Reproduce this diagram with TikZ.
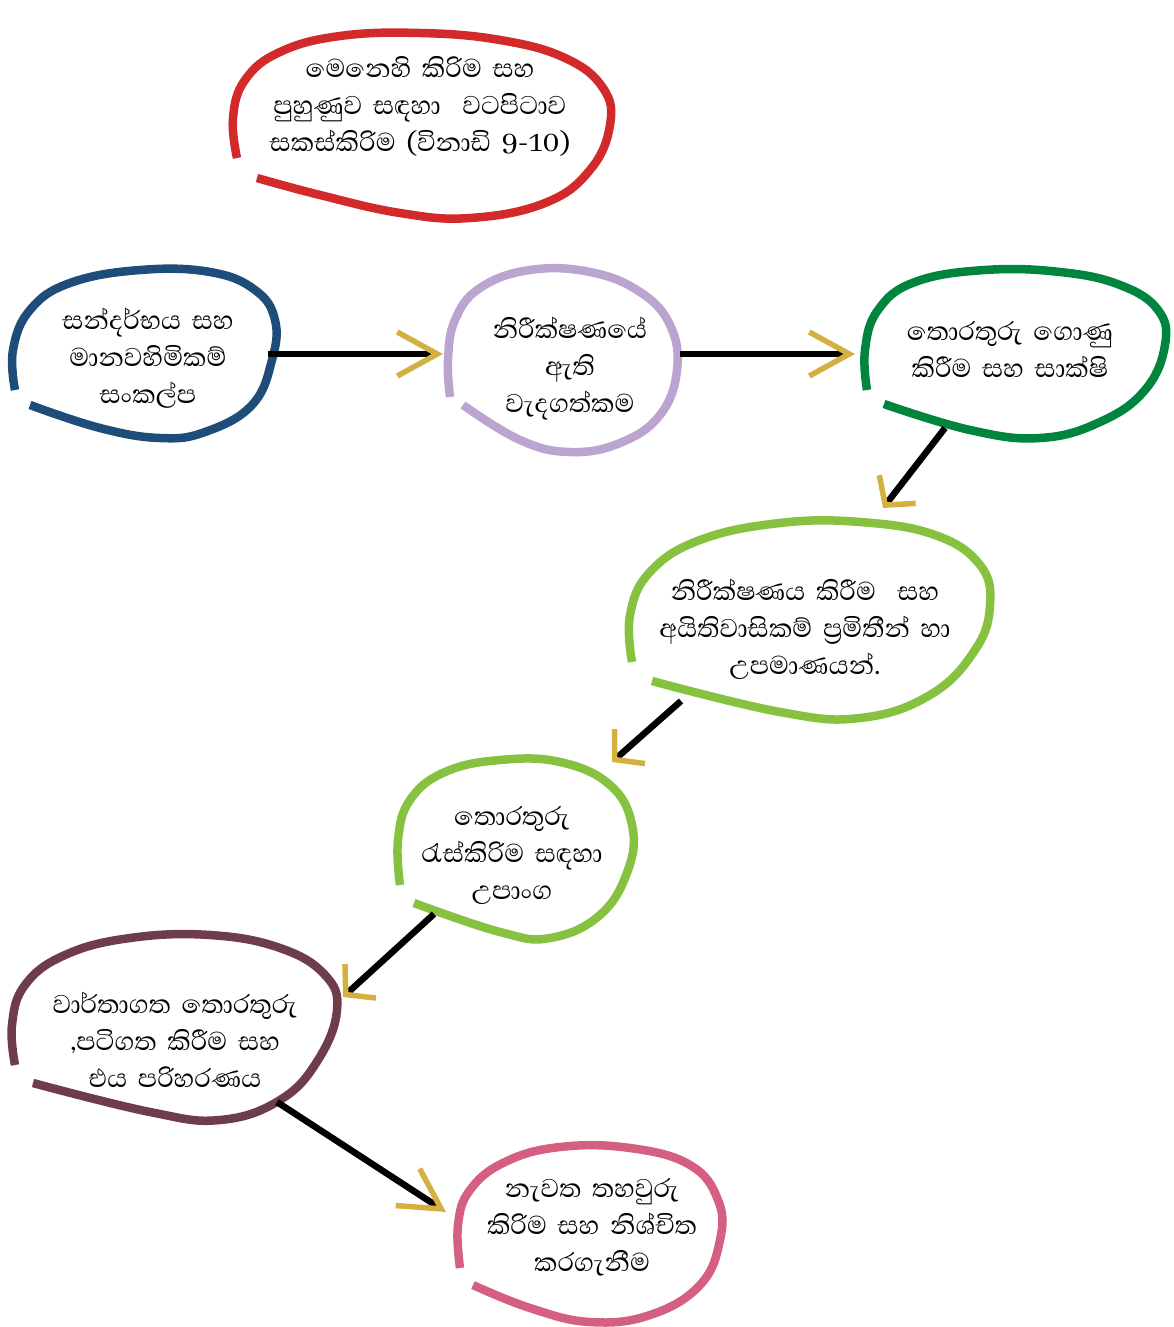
\documentclass[tikz,border=0pt]{standalone}
\usepackage{fontspec}
\newfontfamily\sinhfont[Script=Sinhala, WordSpace=1.7]{Abhaya Libre}
\usetikzlibrary{arrows.meta}
\definecolor{cred}{RGB}{210,42,42}
\definecolor{cblue}{RGB}{30,77,122}
\definecolor{clav}{RGB}{187,165,208}
\definecolor{cdgreen}{RGB}{0,132,62}
\definecolor{clgreen}{RGB}{134,193,64}
\definecolor{cmaroon}{RGB}{111,60,74}
\definecolor{cpink}{RGB}{212,95,128}
\definecolor{cgold}{RGB}{212,176,64}
\tikzset{
  blob/.style={line width=8.5pt, smooth, tension=0.7},
  txt/.style={align=center, inner sep=0pt, font=\sinhfont\fontsize{33}{37}\selectfont},
  arr/.style={line width=6.5pt, black},
  chevA/.style={arr, -{Straight Barb[length=40pt, width=44pt, line width=5.5pt, color=cgold]}},
  chevB/.style={arr, -{Straight Barb[length=20pt, width=46pt, line width=5.5pt, color=cgold]}}
}
\begin{document}
\begin{tikzpicture}[x=1pt, y=-1pt]
\useasboundingbox (0,0) rectangle (1173,1327);

% blobs
\draw[blob, cred] plot coordinates {(237,158) (233,118) (245,80) (280,52) (340,36) (420,33) (500,40) (565,58) (603,88) (610,125) (590,170) (545,203) (470,218) (400,213) (320,195) (257,178)};
\draw[blob, cblue] plot coordinates {(15,390) (13,350) (30,310) (70,283) (140,270) (210,272) (255,290) (275,320) (272,360) (252,405) (205,432) (160,438) (100,428) (30,405)};
\draw[blob, clav] plot coordinates {(450,397) (448,360) (455,320) (480,288) (530,270) (590,272) (640,292) (670,325) (677,370) (660,415) (620,443) (570,452) (520,440) (463,405)};
\draw[blob, cdgreen] plot coordinates {(867,390) (865,350) (878,310) (915,282) (985,270) (1060,272) (1120,285) (1158,310) (1165,345) (1145,390) (1100,422) (1040,438) (970,430) (884,404)};
\draw[blob, clgreen] plot coordinates {(632,662) (630,615) (650,572) (700,540) (780,523) (860,522) (935,535) (980,565) (990,605) (975,650) (930,695) (860,718) (780,712) (652,681)};
\draw[blob, clgreen] plot coordinates {(400,885) (398,840) (410,800) (445,772) (500,760) (560,762) (610,785) (632,825) (628,870) (600,915) (550,938) (500,932) (414,903)};
\draw[blob, cmaroon] plot coordinates {(15,1065) (12,1025) (25,985) (65,955) (130,938) (210,935) (280,948) (325,975) (337,1010) (318,1060) (280,1100) (220,1120) (150,1112) (33,1083)};
\draw[blob, cpink] plot coordinates {(460,1268) (458,1225) (470,1190) (505,1162) (560,1147) (630,1148) (690,1165) (718,1200) (720,1240) (700,1285) (650,1315) (590,1322) (530,1308) (473,1285)};

% texts
\node[txt] (t0) at (420,106) {මෙනෙහි කිරිම සහ\\පුහුණුව සඳහා~ වටපිටාව\\සකස්කිරිම (විනාඩි 9-10)};
\node[txt] (t1) at (148,358) {සන්දර්භය සහ\\මානවහිමිකම්\\සංකල්ප};
\node[txt] (t2) at (570,369) {නිරීක්ෂණයේ\\ඇති\\වැදගත්කම};
\node[txt] (t3) at (1010,349) {තොරතුරු ගොණු\\කිරීම සහ සාක්ෂි};
\node[txt] (t4) at (805,629) {නිරීක්ෂණය කිරීම~ සහ\\අයිතිවාසිකම් ප්‍රමිතීන් හා\\උපමාණයන්.};
\node[txt] (t5) at (512,855) {තොරතුරු\\රැස්කිරිම සඳහා\\උපාංග};
\node[txt] (t6) at (175,1040) {වාර්තාගත තොරතුරු\\,පටිගත කිරීම සහ\\එය පරිහරණය};
\node[txt] (t7) at (592,1227) {නැවත තහවුරු\\කිරිම සහ නිශ්චිත\\කරගැනීම};

% connectors
\draw[chevA] ([shift={(120,-4)}]t1.center) -- ([shift={(-127,-15)}]t2.center);
\draw[chevA] ([shift={(110,-15)}]t2.center) -- ([shift={(-155,5)}]t3.center);
\draw[chevB] ([shift={(-65,79)}]t3.center) -- ([shift={(78,-121)}]t4.center);
\draw[chevB] ([shift={(-124,72)}]t4.center) -- ([shift={(100,-93)}]t5.center);
\draw[chevB] ([shift={(-78,59)}]t5.center) -- ([shift={(168,-43)}]t6.center);
\draw[chevA] ([shift={(102,62)}]t6.center) -- ([shift={(-146,-15)}]t7.center);
\end{tikzpicture}
\end{document}
